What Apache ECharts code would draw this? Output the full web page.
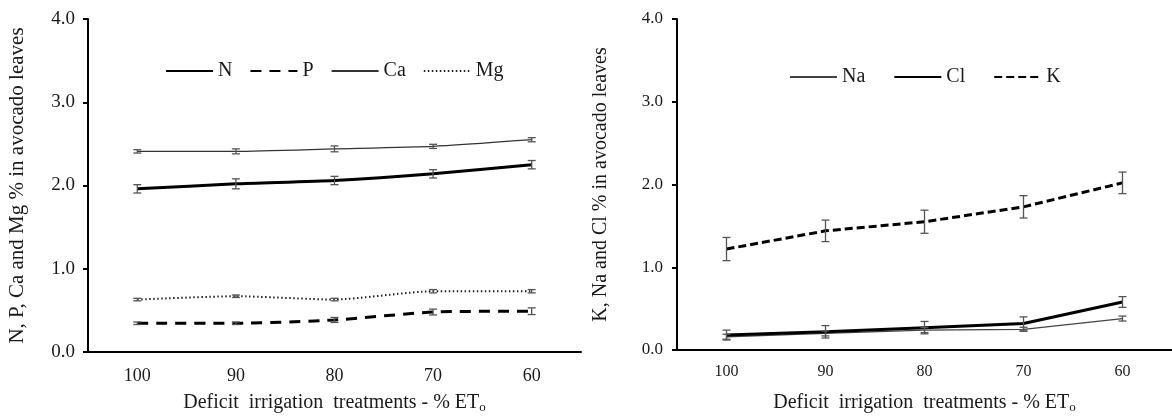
<!DOCTYPE html>
<html lang="en">
<head>
    <meta charset="UTF-8">
    <title>Avocado leaves nutrients</title>
    <script src="https://cdn.jsdelivr.net/npm/echarts@6/dist/echarts.min.js"></script>
</head>
<body style="margin:0;background:#fff">
<div id="main" style="width:1172px;height:419px"></div>
<script>
    // values
    const categories = ['100', '90', '80', '70', '60'];
    const yTicks = [0, 1, 2, 3, 4];

    const nVals = [1.96, 2.02, 2.06, 2.14, 2.25];
    const nErr = [0.05, 0.06, 0.05, 0.05, 0.05];
    const pVals = [0.345, 0.345, 0.385, 0.48, 0.49];
    const pErr = [0.015, 0.015, 0.03, 0.035, 0.04];
    const caVals = [2.41, 2.41, 2.44, 2.47, 2.55];
    const caErr = [0.02, 0.03, 0.035, 0.025, 0.025];
    const mgVals = [0.63, 0.67, 0.63, 0.73, 0.73];
    const mgErr = [0.015, 0.015, 0.015, 0.02, 0.02];

    const naVals = [0.16, 0.20, 0.24, 0.25, 0.38];
    const naErr = [0.03, 0.03, 0.03, 0.025, 0.03];
    const clVals = [0.18, 0.22, 0.27, 0.32, 0.58];
    const clErr = [0.06, 0.075, 0.075, 0.08, 0.065];
    const kVals = [1.22, 1.44, 1.55, 1.73, 2.02];
    const kErr = [0.14, 0.13, 0.14, 0.135, 0.13];

    const font = 'Liberation Serif';
    const ink = '#1a1a1a';

    const chart = echarts.init(document.getElementById('main'));

    function lineSeries(name, vals, idx, width, type, color, smooth) {
        return {
            name: name,
            type: 'line',
            xAxisIndex: idx,
            yAxisIndex: idx,
            data: vals,
            symbol: 'none',
            smooth: smooth,
            lineStyle: {color: color, width: width, type: type},
            itemStyle: {color: color},
            z: 2
        };
    }

    function errorSeries(vals, errs, idx) {
        return {
            type: 'custom',
            xAxisIndex: idx,
            yAxisIndex: idx,
            data: vals.map((v, i) => [i, v - errs[i], v + errs[i]]),
            encode: {x: 0, y: [1, 2]},
            z: 3,
            silent: true,
            renderItem: function (params, api) {
                const lo = api.coord([api.value(0), api.value(1)]);
                const hi = api.coord([api.value(0), api.value(2)]);
                const w = 4;
                const st = {stroke: '#555', lineWidth: 1.3};
                return {
                    type: 'group',
                    children: [
                        {type: 'line', shape: {x1: lo[0], y1: lo[1], x2: hi[0], y2: hi[1]}, style: st},
                        {type: 'line', shape: {x1: lo[0] - w, y1: lo[1], x2: lo[0] + w, y2: lo[1]}, style: st},
                        {type: 'line', shape: {x1: hi[0] - w, y1: hi[1], x2: hi[0] + w, y2: hi[1]}, style: st}
                    ]
                };
            }
        };
    }

    const xTitle = {
        fontFamily: font, fontSize: 20, color: ink,
        rich: {sub: {fontFamily: font, fontSize: 13, color: ink, padding: [9, 0, 0, 0]}}
    };

    function xAxis(idx, labelSize, gap, margin) {
        return {
            type: 'category',
            gridIndex: idx,
            data: categories,
            boundaryGap: true,
            name: 'Deficit  irrigation  treatments - % ET{sub|o}',
            nameLocation: 'middle',
            nameGap: gap,
            nameTextStyle: xTitle,
            axisLine: {lineStyle: {color: '#000', width: 2}},
            axisTick: {length: 6, lineStyle: {color: '#000', width: 2}},
            axisLabel: {fontFamily: font, fontSize: labelSize, color: ink, margin: margin},
            splitLine: {show: false}
        };
    }

    function yAxis(idx, name, labelSize, nameSize, gap, margin) {
        return {
            type: 'value',
            gridIndex: idx,
            min: yTicks[0],
            max: yTicks[yTicks.length - 1],
            interval: 1,
            name: name,
            nameLocation: 'middle',
            nameGap: gap,
            nameTextStyle: {fontFamily: font, fontSize: nameSize, color: ink},
            axisLine: {show: true, lineStyle: {color: '#000', width: 2}},
            axisTick: {show: true, length: 5, lineStyle: {color: '#000', width: 2}},
            axisLabel: {fontFamily: font, fontSize: labelSize, color: ink, margin: margin,
                formatter: v => v.toFixed(1)},
            splitLine: {show: false}
        };
    }

    const legendBase = {
        itemWidth: 47, itemHeight: 14,
        itemStyle: {opacity: 0},
        textStyle: {fontFamily: font, fontSize: 20, color: ink}
    };

    const option = {
        backgroundColor: '#fff',
        animation: false,
        grid: [
            {left: 88, top: 19, width: 493, height: 336},
            {left: 677, top: 19, width: 498, height: 334}
        ],
        xAxis: [xAxis(0, 18, 40, 15), xAxis(1, 16, 42, 14)],
        yAxis: [
            yAxis(0, 'N, P, Ca and Mg % in avocado leaves', 19, 21, 60, 13),
            yAxis(1, 'K, Na and Cl % in avocado leaves', 17, 20, 66, 14)
        ],
        legend: [
            Object.assign({data: ['N', 'P', 'Ca', 'Mg'], left: 160, top: 56, itemGap: 17}, legendBase),
            Object.assign({data: ['Na', 'Cl', 'K'], left: 784, top: 62, itemGap: 28}, legendBase)
        ],
        series: [
            lineSeries('N', nVals, 0, 3, 'solid', '#000', 0.2),
            lineSeries('P', pVals, 0, 3, [11, 8], '#000', 0.2),
            lineSeries('Ca', caVals, 0, 1.3, 'solid', '#333', 0.2),
            lineSeries('Mg', mgVals, 0, 2, [1.5, 2.5], '#222', 0.2),
            errorSeries(nVals, nErr, 0),
            errorSeries(pVals, pErr, 0),
            errorSeries(caVals, caErr, 0),
            errorSeries(mgVals, mgErr, 0),
            lineSeries('Na', naVals, 1, 1.3, 'solid', '#444', false),
            lineSeries('Cl', clVals, 1, 3, 'solid', '#000', false),
            lineSeries('K', kVals, 1, 3, [8, 4], '#000', false),
            errorSeries(naVals, naErr, 1),
            errorSeries(clVals, clErr, 1),
            errorSeries(kVals, kErr, 1)
        ]
    };

    option && chart.setOption(option);
</script>
</body>
</html>
